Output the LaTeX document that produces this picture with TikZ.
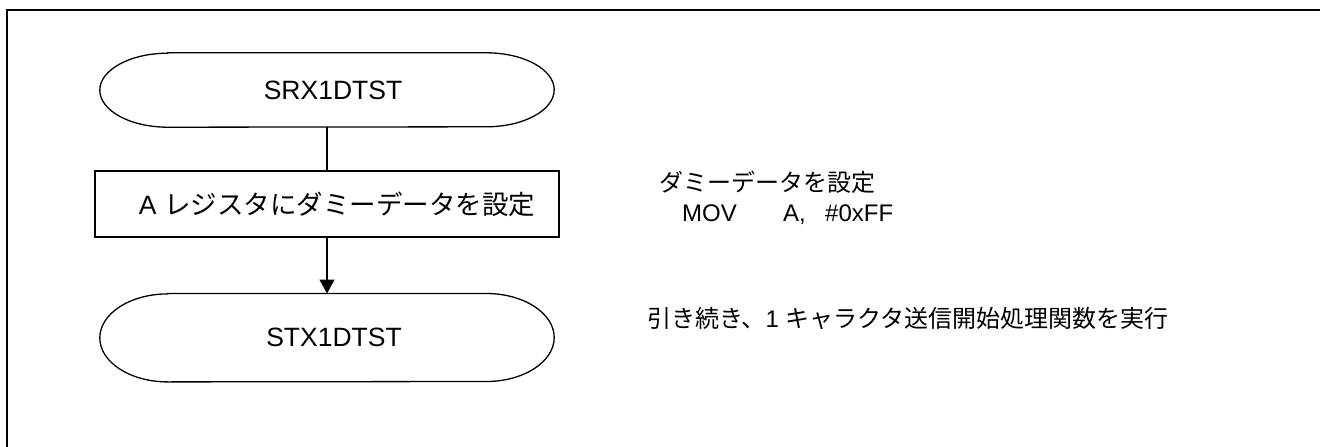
\documentclass[tikz,border=0pt]{standalone}
\usepackage{fontspec}
\setmainfont{Liberation Sans}
\newfontfamily\jp{Noto Sans CJK JP}
\usetikzlibrary{positioning,arrows.meta}

% outline of a terminal node, #2 = half height
\newcommand\termline[2]{\draw[line] ([xshift=68pt]#1.north west) -- ([xshift=-68pt]#1.north east)
  arc[start angle=90,end angle=-90,x radius=68pt,y radius=#2] -- ([xshift=68pt]#1.south west)
  arc[start angle=270,end angle=90,x radius=68pt,y radius=#2] -- cycle;}

\begin{document}
\begin{tikzpicture}[x=1pt,y=1pt,font=\fontsize{26.5}{31}\selectfont,
term/.style={minimum width=454pt,inner sep=0pt},
stepbox/.style={draw,line width=1.3pt,minimum width=464pt,minimum height=66pt,inner sep=0pt},
line/.style={line width=1.3pt},
arr/.style={line width=1.3pt,-{Triangle[length=14pt,width=15pt]}},
note/.style={anchor=west,inner sep=0pt,font=\fontsize{24}{28}\selectfont}]
\useasboundingbox (0,0) rectangle (1320,-447);
\draw[line width=2.2pt] (7,-447) -- (7,-10) -- (1320,-10);
\node[term,minimum height=74pt] (start) at (327,-90) {\hspace{12pt}SRX1DTST};
\node[stepbox,below=43pt of start] (setA) {\hspace{20pt}A {\jp レジスタにダミーデータを設定}};
\node[term,minimum height=88pt,below=56pt of setA] (next) {\hspace{14pt}STX1DTST};
\termline{start}{37pt}
\termline{next}{44pt}
\draw[line] (start)--(setA);
\draw[arr] (setA)--(next);
\node[note] (dummy) at (659,-182) {\jp ダミーデータを設定};
\node[note] (mov) at (682,-215) {\makebox[101pt][l]{MOV}\makebox[42pt][l]{A,}\#0xFF};
\node[note] (cont) at (647,-318) {{\jp 引き続き、}1 {\jp キャラクタ送信開始処理関数を実行}};
\end{tikzpicture}
\end{document}
